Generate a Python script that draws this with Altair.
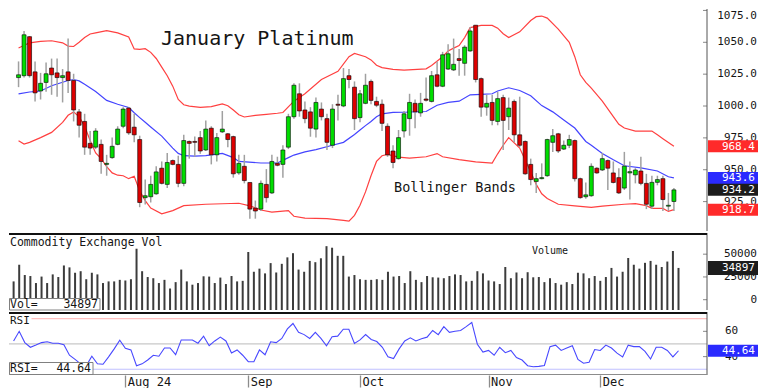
import altair as alt
import pandas as pd

# ---------------- data ----------------
opens = [1022.3, 1023.8, 1054.4, 1026.8, 1011.8, 1018.5, 1029.8, 1026.0, 1022.3, 1026.8,
         1020.0, 995.4, 987.9, 970.7, 967.7, 969.9, 954.2, 959.5, 969.9, 984.1,
         998.4, 983.4, 973.7, 928.1, 928.8, 931.1, 951.2, 938.5, 957.2, 954.2,
         939.3, 972.2, 972.2, 975.2, 965.5, 982.6, 961.7, 979.7, 978.2, 976.0,
         947.5, 952.7, 940.0, 919.9, 919.1, 938.5, 931.8, 955.0, 954.2, 967.7,
         991.6, 1009.6, 996.9, 995.4, 981.9, 997.6, 990.1, 969.2, 1001.4, 1000.0,
         1023.8, 1014.8, 990.9, 1002.1, 1019.3, 1003.6, 1001.4, 984.1, 964.7, 958.7,
         980.4, 990.1, 1002.1, 994.6, 1005.5, 1003.6, 1024.5, 1015.5, 1029.0, 1028.3,
         1037.2, 1033.5, 1043.2, 1063.4, 1021.5, 999.1, 1002.8, 987.9, 1006.6, 991.6,
         1003.6, 977.4, 972.2, 954.2, 940.8, 943.0, 945.3, 971.5, 978.2, 966.2,
         969.2, 972.9, 943.0, 928.8, 929.6, 951.2, 949.8, 957.2, 947.5, 943.8,
         935.6, 947.5, 946.0, 949.0, 939.3, 921.4, 940.1, 943.0, 921.4, 925.1]
highs = [1035.0, 1058.9, 1054.9, 1035.0, 1026.0, 1034.2, 1037.2, 1037.2, 1029.0, 1052.9,
         1025.3, 997.6, 993.9, 980.4, 982.6, 973.7, 961.7, 975.2, 984.1, 999.1,
         999.1, 993.9, 976.7, 942.3, 945.3, 952.7, 956.5, 963.2, 958.0, 961.0,
         977.4, 972.9, 976.0, 980.4, 988.7, 984.1, 978.9, 996.1, 978.9, 976.7,
         961.7, 961.7, 940.0, 925.8, 941.5, 950.5, 961.7, 960.2, 969.2, 993.9,
         1017.8, 1017.8, 1003.6, 999.1, 1006.6, 1002.8, 993.9, 1001.4, 1008.8, 1029.8,
         1029.0, 1019.3, 1012.5, 1025.3, 1020.8, 1007.3, 1005.1, 986.4, 969.2, 981.2,
         996.1, 1009.6, 1005.1, 1010.3, 1022.3, 1027.5, 1035.0, 1042.5, 1048.5, 1052.9,
         1044.7, 1047.7, 1061.9, 1063.4, 1022.3, 1008.8, 1008.8, 1011.1, 1008.8, 1006.6,
         1005.1, 1007.3, 972.9, 958.7, 947.5, 955.0, 974.4, 981.9, 978.9, 972.9,
         977.4, 973.7, 943.8, 940.0, 955.0, 952.0, 963.2, 958.0, 956.5, 951.2,
         964.0, 956.5, 951.2, 960.2, 946.8, 945.3, 945.3, 945.3, 931.8, 935.6]
lows = [1014.8, 1022.3, 1022.3, 1003.6, 1005.1, 1011.1, 1008.8, 1007.3, 1002.8, 1010.3,
        987.9, 975.2, 961.7, 961.7, 966.2, 946.8, 945.3, 958.7, 969.2, 982.6,
        977.4, 971.5, 920.6, 922.8, 924.3, 930.3, 938.5, 935.6, 953.5, 936.3,
        937.1, 958.7, 960.2, 962.5, 964.7, 954.2, 956.5, 978.9, 967.7, 943.8,
        946.0, 939.3, 911.6, 911.6, 917.6, 924.3, 931.0, 952.7, 943.8, 966.2,
        990.1, 991.6, 986.4, 975.9, 975.2, 988.7, 965.5, 967.0, 988.7, 999.1,
        1014.0, 981.2, 987.2, 1001.4, 1001.4, 999.1, 980.4, 960.2, 951.2, 958.0,
        975.2, 976.7, 982.6, 991.6, 1003.6, 1002.8, 1014.8, 1014.8, 1028.3, 1027.5,
        1023.8, 1023.8, 1042.5, 1018.5, 991.6, 992.4, 984.9, 984.9, 965.5, 981.2,
        971.5, 967.7, 946.0, 937.8, 931.8, 942.5, 944.5, 964.0, 963.2, 965.5,
        967.0, 940.8, 927.3, 927.3, 928.8, 946.8, 949.0, 934.1, 939.3, 931.0,
        934.1, 926.6, 939.3, 937.8, 919.1, 919.1, 937.8, 917.6, 917.6, 917.6]
closes = [1024.5, 1055.9, 1023.8, 1010.3, 1017.8, 1025.3, 1024.5, 1022.3, 1023.8, 1020.0,
          996.9, 984.9, 967.7, 967.0, 980.4, 956.5, 955.0, 968.4, 981.9, 997.6,
          978.9, 977.4, 924.3, 929.6, 938.5, 948.3, 939.3, 955.7, 954.2, 939.3,
          972.9, 970.7, 971.5, 964.7, 981.9, 961.7, 975.2, 981.9, 973.7, 946.8,
          955.0, 941.5, 919.1, 917.6, 939.3, 928.1, 956.5, 953.5, 965.5, 991.6,
          1016.3, 996.1, 990.1, 982.6, 1002.8, 991.6, 971.5, 997.6, 1000.6, 1021.5,
          1020.8, 990.1, 1009.6, 1016.3, 1004.4, 1000.6, 986.4, 961.7, 955.7, 975.2,
          993.9, 1002.8, 995.4, 1002.1, 1004.5, 1023.8, 1015.5, 1040.2, 1041.0, 1032.7,
          1035.7, 1046.2, 1058.9, 1020.8, 999.1, 1002.1, 988.7, 1005.8, 988.7, 998.4,
          977.4, 969.2, 946.8, 942.3, 943.0, 943.8, 973.7, 976.7, 964.7, 969.2,
          973.7, 943.0, 928.1, 930.3, 952.7, 947.5, 958.7, 951.2, 940.0, 931.8,
          952.8, 948.5, 949.8, 939.3, 922.9, 940.1, 942.3, 926.6, 922.1, 934.2]

volumes = [20100, 38400, 27100, 26000, 18300, 25400, 18300, 27800, 24900, 37600,
           35500, 29600, 31300, 22500, 29600, 27800, 18300, 20100, 20100, 21800,
           21100, 22500, 56000, 31300, 24900, 23600, 18300, 21800, 12300, 19300,
           33100, 20100, 16500, 18300, 25700, 25400, 18300, 24300, 17200, 26000,
           20100, 20700, 52400, 30700, 34100, 28900, 40200, 29900, 39400, 46500,
           51100, 33100, 30700, 42600, 41200, 45500, 58800, 57100, 48200, 48200,
           25400, 27100, 22500, 21800, 21800, 22500, 21800, 30700, 25400, 26000,
           18300, 31300, 21800, 19300, 26000, 24600, 24300, 23600, 26000, 27800,
           27100, 20100, 20700, 31300, 28900, 21100, 20100, 17200, 35900, 23600,
           29900, 23600, 30200, 24600, 24900, 19300, 23600, 18300, 16500, 19300,
           17200, 29600, 28900, 23600, 26000, 20700, 24900, 34900, 25400, 30700,
           45800, 38400, 34100, 40500, 42600, 38400, 35900, 41900, 53500, 34897]

rsi_vals = [52.4, 60.0, 51.1, 47.4, 49.1, 51.1, 51.7, 50.6, 50.6, 49.4,
            41.1, 37.8, 34.3, 32.8, 40.3, 34.3, 34.0, 39.8, 46.1, 52.9,
            46.6, 45.3, 32.8, 34.3, 37.3, 41.1, 40.3, 46.8, 46.8, 41.5,
            53.2, 53.2, 53.2, 50.6, 56.2, 48.6, 52.4, 55.4, 52.4, 42.8,
            45.3, 41.1, 36.0, 36.0, 45.3, 41.5, 51.7, 51.1, 54.4, 61.9,
            66.2, 59.2, 57.4, 54.4, 59.2, 54.4, 48.6, 55.7, 56.2, 61.7,
            61.7, 50.4, 53.2, 57.4, 53.6, 51.9, 47.4, 39.8, 38.5, 46.1,
            52.4, 54.9, 52.4, 54.2, 55.4, 60.7, 57.4, 63.7, 59.2, 60.0,
            60.7, 63.7, 67.0, 49.8, 43.6, 44.9, 41.1, 47.4, 43.1, 44.9,
            39.3, 37.3, 32.8, 32.0, 32.3, 33.0, 47.9, 49.1, 44.9, 46.8,
            48.6, 37.8, 34.8, 35.5, 45.6, 44.9, 49.1, 46.8, 42.8, 39.8,
            49.1, 47.9, 47.9, 44.1, 38.1, 47.4, 47.4, 44.9, 39.8, 44.64]

upper_bar = [0, 2, 4, 6, 8, 9, 10, 11, 12, 13, 14, 16, 18, 20, 21, 22, 23, 24, 25, 26,
             27, 28, 29, 30, 31, 33, 35, 37, 38, 39, 40, 41, 43, 45, 47, 48, 50, 52, 55, 58,
             60, 61, 63, 64, 65, 66, 68, 70, 74, 75, 77, 78, 79, 80, 81, 82, 84, 86, 87, 88,
             89, 91, 93, 94, 95, 96, 98, 100, 101, 102, 103, 104, 106, 108, 109, 110, 112, 115,
             116, 117, 119]
upper_val = [1045.5, 1049.6, 1050.7, 1051.2, 1049.6, 1047.0, 1046.7, 1050.0, 1053.7, 1056.5,
             1057.4, 1059.2, 1057.4, 1054.1, 1044.8, 1044.5, 1045.0, 1042.1, 1037.3, 1030.5,
             1023.8, 1015.6, 1005.1, 1001.0, 999.9, 998.9, 999.5, 1001.7, 1000.2, 996.9,
             993.2, 991.4, 992.6, 993.4, 994.3, 994.9, 1003.8, 1009.6, 1020.8, 1027.2,
             1038.7, 1041.2, 1038.7, 1036.2, 1032.0, 1030.1, 1028.8, 1028.2, 1029.2, 1031.8,
             1038.7, 1043.2, 1045.4, 1047.5, 1053.7, 1061.5, 1063.2, 1063.2, 1061.1, 1056.7,
             1053.7, 1058.2, 1067.1, 1070.1, 1070.6, 1069.0, 1060.4, 1050.0, 1038.7, 1024.5,
             1018.5, 1014.0, 1003.8, 991.6, 985.7, 982.7, 980.3, 980.3,
             977.4, 974.4, 968.4]

mid_bar = [0, 2, 4, 6, 9, 10, 11, 12, 14, 16, 18, 20, 21, 22, 23, 24, 26, 28, 29, 30,
           32, 34, 37, 39, 40, 44, 47, 49, 50, 52, 54, 57, 59, 61, 62, 63, 64, 65, 66, 68,
           70, 74, 76, 78, 80, 82, 84, 86, 87, 89, 91, 93, 95, 97, 99, 101, 103, 104, 106, 108,
           110, 113, 116, 118, 119]
mid_val = [1009.5, 1011.0, 1011.8, 1015.9, 1020.0, 1020.8, 1019.7, 1017.0, 1011.4, 1004.4,
           1001.4, 998.8, 994.7, 990.9, 987.2, 983.5, 976.4, 967.0, 962.8, 961.0,
           960.7, 961.0, 962.8, 959.5, 956.5, 955.3, 955.3, 959.5, 961.5, 964.0,
           965.8, 969.2, 971.5, 977.7, 981.2, 984.6, 987.9, 991.6, 993.9, 995.0,
           995.1, 995.7, 1000.6, 1002.9, 1003.8, 1008.8, 1009.2, 1009.6, 1011.8, 1014.3,
           1012.2, 1008.1, 1000.3, 995.4, 989.1, 982.7, 972.2, 969.2, 962.8, 957.8,
           953.1, 951.5, 949.0, 944.5, 943.6]

lower_bar = [0, 1, 2, 4, 6, 8, 9, 10, 11, 12, 13, 14, 15, 16, 17, 18, 19, 20, 21, 22,
             23, 24, 26, 28, 30, 34, 40, 42, 44, 46, 48, 49, 50, 52, 56, 59, 60, 61, 62, 63,
             64, 65, 66, 67, 69, 71, 74, 76, 77, 80, 83, 86, 87, 88, 89, 91, 93, 94, 95, 96,
             98, 101, 104, 106, 110, 112, 114, 115, 117, 118, 119]
lower_val = [972.7, 970.2, 971.5, 975.2, 979.3, 987.2, 992.7, 995.4, 991.6, 984.1,
             972.9, 963.2, 958.7, 952.4, 947.5, 945.7, 945.3, 943.0, 944.9, 933.3,
             925.8, 919.9, 915.4, 917.9, 921.8, 922.9, 923.7, 921.7, 918.4, 916.7,
             917.6, 917.9, 913.5, 912.0, 911.7, 910.2, 909.7, 914.2, 922.2, 932.6,
             945.3, 956.5, 961.0, 962.0, 959.9, 959.1, 960.2, 962.7, 960.2, 958.0,
             956.1, 955.2, 962.5, 969.2, 975.2, 967.0, 948.3, 938.5, 931.1, 927.4,
             922.9, 921.6, 920.4, 921.4, 922.9, 923.4, 921.8, 919.7, 919.7, 917.3,
             918.7]

month_bars = [20, 42, 62, 85, 105]
month_labels = ["Aug 24", "Sep", "Oct", "Nov", "Dec"]
price_ticks = [925, 950, 975, 1000, 1025, 1050, 1075]
vol_ticks = [0, 25000, 50000]
rsi_ticks = [40, 60]
rsi_levels = [70, 50, 30]
price_tags = [968.4, 943.6, 934.2, 918.7]
last_volume = 34897
last_rsi = 44.64

# ---------------- layout / style ----------------
W = 698
HP, HV, HR = 222, 77, 63
XDOM = [-0.825, 124.1]
PDOM = [901.93, 1076.12]
VDOM = [-11310, 73260]
RDOM = [25.47, 75.28]

MONO = "DejaVu Sans Mono"
GREEN, RED, WICK = "#00dd00", "#dd0000", "#a0a0a0"
BAND_RED, BAND_BLUE = "#ff4040", "#4444ff"
TAG_COLORS = ["#ff2a2a", "#2a2aff", "#1c1c1c", "#ff2a2a"]
LEVEL_COLORS = ["#ffc0c0", "#c8c8c8", "#c0c0ff"]
AXIS_GRAY = "#555555"
LABEL_COLOR = "#151515"

xs = alt.Scale(domain=XDOM, nice=False, zero=False)
ps = alt.Scale(domain=PDOM, nice=False, zero=False)
vs = alt.Scale(domain=VDOM, nice=False, zero=False)
rs = alt.Scale(domain=RDOM, nice=False, zero=False)
X = alt.X("i:Q", scale=xs, axis=None)

bars = list(range(len(closes)))
candles = pd.DataFrame({"i": bars, "o": opens, "h": highs, "l": lows, "c": closes})
candles["dir"] = ["up" if c >= o else "down" for o, c in zip(opens, closes)]


def box_path(half_h, width=50.0):
    r = half_h / (width / 2.0)
    return f"M-1,-{r:.3f}L1,-{r:.3f}L1,{r:.3f}L-1,{r:.3f}Z"


def text_at(txt, x, y, size, align="left", color=LABEL_COLOR, baseline="alphabetic"):
    return alt.Chart(pd.DataFrame({"t": [txt]})).mark_text(
        align=align, baseline=baseline, font=MONO, fontSize=size, color=color
    ).encode(x=alt.value(x), y=alt.value(y), text="t:N")


def rect_at(x1, x2, y1, y2, fill="white", stroke="#808080"):
    return alt.Chart(pd.DataFrame({"t": [0]})).mark_rect(
        fill=fill, stroke=stroke, strokeWidth=1
    ).encode(x=alt.value(x1), x2=alt.value(x2), y=alt.value(y1), y2=alt.value(y2))


def hline(y, color, width):
    return alt.Chart(pd.DataFrame({"t": [0]})).mark_rule(
        color=color, strokeWidth=width
    ).encode(x=alt.value(0), x2=alt.value(W), y=alt.value(y))


def axis_line(h):
    return alt.Chart(pd.DataFrame({"t": [0]})).mark_rule(
        color=AXIS_GRAY, strokeWidth=1
    ).encode(x=alt.value(W), y=alt.value(0), y2=alt.value(h))


def inner_ticks(values, scale):
    return alt.Chart(pd.DataFrame({"v": values})).mark_tick(
        orient="horizontal", size=4, thickness=1, color=AXIS_GRAY
    ).encode(x=alt.value(W - 2), y=alt.Y("v:Q", scale=scale, axis=None))


def axis_labels(values, labels, scale, x, align, size, baseline="middle"):
    df = pd.DataFrame({"v": values, "t": labels})
    return alt.Chart(df).mark_text(align=align, baseline=baseline, font=MONO,
                                   fontSize=size, color=LABEL_COLOR).encode(
        x=alt.value(x), y=alt.Y("v:Q", scale=scale, axis=None), text="t:N")


def tags(values, colors, labels, scale, half_h, size=11):
    df = pd.DataFrame({"v": values, "col": colors, "t": labels})
    box = alt.Chart(df).mark_point(shape=box_path(half_h), size=2500, filled=True,
                                   opacity=1, strokeWidth=0).encode(
        x=alt.value(W + 26), y=alt.Y("v:Q", scale=scale, axis=None),
        color=alt.Color("col:N", scale=None))
    txt = alt.Chart(df).mark_text(align="right", baseline="middle", font=MONO,
                                  fontSize=size, color="white", dy=0.5).encode(
        x=alt.value(W + 48), y=alt.Y("v:Q", scale=scale, axis=None), text="t:N")
    return box + txt


# ---------------- price panel ----------------
def band(bx, bv, color):
    return alt.Chart(pd.DataFrame({"i": bx, "v": bv})).mark_line(
        color=color, strokeWidth=1.2).encode(x=X, y=alt.Y("v:Q", scale=ps, axis=None))


wicks = alt.Chart(candles).mark_rule(color=WICK, strokeWidth=1.5).encode(
    x=X, y=alt.Y("l:Q", scale=ps, axis=None), y2="h:Q")
bodies = alt.Chart(candles).mark_bar(size=4, stroke="black", strokeWidth=0.6).encode(
    x=X, y=alt.Y("o:Q", scale=ps, axis=None), y2="c:Q",
    color=alt.Color("dir:N", scale=alt.Scale(domain=["up", "down"], range=[GREEN, RED]),
                    legend=None))

top_tick = [v for v in price_ticks if v > PDOM[1] - 4]
mid_ticks = [v for v in price_ticks if v <= PDOM[1] - 4]

price = alt.layer(
    band(upper_bar, upper_val, BAND_RED),
    band(lower_bar, lower_val, BAND_RED),
    band(mid_bar, mid_val, BAND_BLUE),
    wicks, bodies,
    axis_line(HP),
    inner_ticks(price_ticks, ps),
    axis_labels(mid_ticks, [f"{v:.1f}" for v in mid_ticks], ps, W + 50, "right", 11),
    axis_labels(top_tick, [f"{v:.1f}" for v in top_tick], ps, W + 50, "right", 11,
                baseline="top"),
    text_at("January Platinum", 152, 35.7, 20),
    text_at("Bollinger Bands", 385, 182.7, 13.5),
    tags(price_tags, TAG_COLORS, [f"{v:.1f}" for v in price_tags], ps, 6),
).properties(width=W, height=HP)

# ---------------- volume panel ----------------
vdf = pd.DataFrame({"i": bars, "vol": volumes})
vbars = alt.Chart(vdf).mark_rule(color="#3c3c3c", strokeWidth=2).encode(
    x=X, y=alt.Y("vol:Q", scale=vs, axis=None), y2=alt.datum(VDOM[0]))

vol = alt.layer(
    vbars,
    axis_line(HV),
    inner_ticks(vol_ticks, vs),
    axis_labels(vol_ticks, [str(v) for v in vol_ticks], vs, W + 50, "right", 11),
    hline(1, "#111111", 2),
    text_at("Commodity Exchange Vol", 1, 13.2, 11.5),
    text_at("Volume", 541, 21.2, 10, align="center"),
    rect_at(0.5, 91, 65.5, 77),
    text_at("Vol=", 1, 75.2, 11.5),
    text_at(str(last_volume), 89, 75.2, 11.5, align="right"),
    tags([last_volume], ["#1c1c1c"], [str(last_volume)], vs, 7),
).properties(width=W, height=HV)

# ---------------- RSI panel ----------------
rdf = pd.DataFrame({"i": bars, "r": rsi_vals})
label_expr = " : ".join(f"datum.value == {b} ? '{l}'" for b, l in zip(month_bars, month_labels)) + " : ''"
date_axis = alt.Axis(orient="bottom", values=month_bars, labelExpr=label_expr, tickSize=12,
                     tickColor="#8c8c8c", tickWidth=1.3, domain=False, labelAlign="left",
                     labelBaseline="top", labelPadding=-11, labelOffset=2, labelFont=MONO,
                     labelFontSize=12, labelColor=LABEL_COLOR, grid=False, title=None,
                     labelFlush=False, labelOverlap=False)

levels = alt.Chart(pd.DataFrame({"lv": rsi_levels, "col": LEVEL_COLORS})).mark_rule(
    strokeWidth=1.2).encode(x=alt.value(0), x2=alt.value(W),
                            y=alt.Y("lv:Q", scale=rs, axis=None),
                            color=alt.Color("col:N", scale=None))
rline = alt.Chart(rdf).mark_line(color="#4848ff", strokeWidth=1.1).encode(
    x=alt.X("i:Q", scale=xs, axis=date_axis),
    y=alt.Y("r:Q", scale=rs, axis=None))

rsi = alt.layer(
    levels, rline,
    axis_line(HR),
    inner_ticks(rsi_ticks, rs),
    axis_labels(rsi_ticks, [str(v) for v in rsi_ticks], rs, W + 18, "left", 11),
    hline(1, "#111111", 2),
    hline(HR - 0.5, "#8c8c8c", 1),
    rect_at(0, 22, 3, 14, fill="white", stroke="white"),
    text_at("RSI", 1, 11.5, 11),
    rect_at(0.5, 84, 50.5, 62.5),
    text_at("RSI=", 1, 60, 11.5),
    text_at(f"{last_rsi:.2f}", 82, 60, 11.5, align="right"),
    tags([last_rsi], ["#2a2aff"], [f"{last_rsi:.2f}"], rs, 6),
).properties(width=W, height=HR)

chart = alt.vconcat(price, vol, rsi, spacing=0).properties(
    padding=0, background="white"
).configure_view(stroke=None)

chart.save("out.html", embed_options={"renderer": "svg", "actions": False})
